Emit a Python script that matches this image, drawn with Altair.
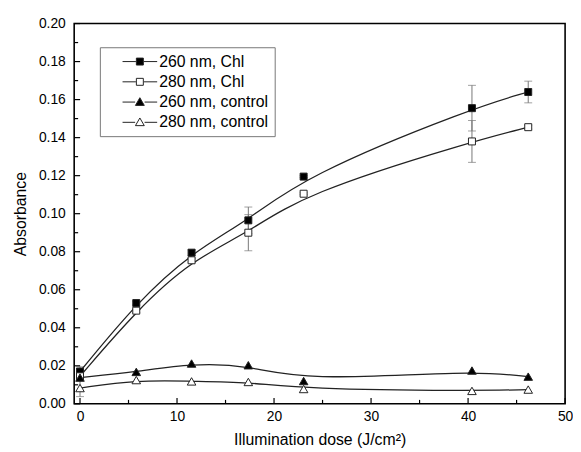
import altair as alt
import pandas as pd

# ---------------- data ----------------
series_names = ["260 nm, Chl", "280 nm, Chl", "260 nm, control", "280 nm, control"]
dose = [0, 5.8, 11.5, 17.35, 23.05, 40.4, 46.2]

abs_260_chl = [0.0170, 0.0530, 0.0795, 0.0965, 0.1195, 0.1555, 0.1640]
abs_280_chl = [0.0145, 0.0490, 0.0755, 0.0900, 0.1105, 0.1380, 0.1455]
abs_260_ctl = [0.0138, 0.0168, 0.0212, 0.0203, 0.0120, 0.0175, 0.0143]
abs_280_ctl = [0.0083, 0.0125, 0.0118, 0.0115, 0.0078, 0.0068, 0.0075]

err_260_chl = [0.0025, 0.0010, 0.0015, 0.0070, 0.0005, 0.0120, 0.0057]
err_280_chl = [0.0020, 0.0010, 0.0010, 0.0095, 0.0005, 0.0110, 0.0010]
err_260_ctl = [0.0010, 0.0, 0.0, 0.0, 0.0, 0.0, 0.0]
err_280_ctl = [0.0045, 0.0, 0.0, 0.0, 0.0, 0.0, 0.0]

x_major = [0, 10, 20, 30, 40, 50]
x_minor = [5, 15, 25, 35, 45]
y_major = [0.00, 0.02, 0.04, 0.06, 0.08, 0.10, 0.12, 0.14, 0.16, 0.18, 0.20]
y_minor = [0.01, 0.03, 0.05, 0.07, 0.09, 0.11, 0.13, 0.15, 0.17, 0.19]

values = [abs_260_chl, abs_280_chl, abs_260_ctl, abs_280_ctl]
errors = [err_260_chl, err_280_chl, err_260_ctl, err_280_ctl]

rows = []
for s, vals, errs in zip(series_names, values, errors):
    for d, v, e in zip(dose, vals, errs):
        rows.append({"series": s, "dose": d, "value": v, "err": e,
                     "lo": v - e, "hi": v + e})
df = pd.DataFrame(rows)

# ---------------- layout ----------------
W, H = 497, 385
FONT = "Liberation Sans"

xscale = alt.Scale(domain=[-0.6, 50], nice=False, zero=False)
yscale = alt.Scale(domain=[0, 0.2], nice=False, zero=False)

x_axis = alt.Axis(values=x_major, ticks=False, domain=False, grid=False,
                  labelPadding=6, title="Illumination dose (J/cm²)",
                  titlePadding=8, labelFlush=False)
y_axis = alt.Axis(values=y_major, format=".2f", ticks=False, domain=False,
                  grid=False, labelPadding=9, title="Absorbance",
                  titlePadding=10)


def X(field):
    return alt.X(field, scale=xscale, axis=x_axis)


def Y(field):
    return alt.Y(field, scale=yscale, axis=y_axis)


base = alt.Chart(df)

# error bars
err_df = base.transform_filter(alt.datum.err > 0)
err_rule = err_df.mark_rule(color="#777777", strokeWidth=1).encode(
    x=X("dose:Q"), y=Y("lo:Q"), y2="hi:Q",
)
cap_lo = err_df.mark_tick(color="#777777", orient="horizontal", size=8,
                          thickness=1).encode(x=X("dose:Q"), y=Y("lo:Q"))
cap_hi = err_df.mark_tick(color="#777777", orient="horizontal", size=8,
                          thickness=1).encode(x=X("dose:Q"), y=Y("hi:Q"))

# smooth curves
lines = base.mark_line(interpolate="basis", color="#222222",
                       strokeWidth=1.3).encode(
    x=X("dose:Q"), y=Y("value:Q"), detail="series:N",
)

# markers
marker_shapes = ["square", "square", "triangle-up", "triangle-up"]
marker_fills = ["black", "white", "black", "white"]
marker_sizes = [50, 50, 75, 75]
point_layers = []
for s, shp, fl, sz in zip(series_names, marker_shapes, marker_fills, marker_sizes):
    point_layers.append(
        base.transform_filter(alt.datum.series == s).mark_point(
            shape=shp, filled=True, fill=fl, stroke="#222222",
            strokeWidth=1, size=sz, opacity=1,
        ).encode(x=X("dose:Q"), y=Y("value:Q"))
    )

# legend (symbols with line stubs); unit = 8 px for symbolSize 256,
# drawn shifted one unit to the right
legend_paths = [
    "M-1.19,0H0.5M1.5,0H3.19M0.56,-0.44H1.44V0.44H0.56Z",
    "M-1.19,0H0.5M1.5,0H3.19M0.56,-0.44H1.44V0.44H0.56Z",
    "M-1.19,0H0.4M1.6,0H3.19M1,-0.55L1.56,0.42L0.44,0.42Z",
    "M-1.19,0H0.4M1.6,0H3.19M1,-0.55L1.56,0.42L0.44,0.42Z",
]
legend_strokes = ["#222222", "#222222", "#222222", "#222222"]
leg = alt.Legend(title=None, orient="none", legendX=26, legendY=24,
                 symbolSize=256, symbolStrokeWidth=1, symbolOpacity=1,
                 symbolStrokeColor="#222222", symbolOffset=18,
                 labelFont=FONT, labelFontSize=16, labelColor="black",
                 labelLimit=300, labelExpr="datum.label + '\u2002'",
                 strokeColor="#777777", fillColor="white",
                 padding=6, rowPadding=3.5, labelOffset=19)
legend_layer = base.transform_filter("false").mark_point(
    filled=True, strokeWidth=1, opacity=1
).encode(
    x=X("dose:Q"), y=Y("value:Q"),
    shape=alt.Shape("series:N", scale=alt.Scale(domain=series_names,
                                                range=legend_paths),
                    legend=leg),
    fill=alt.Fill("series:N", scale=alt.Scale(domain=series_names,
                                              range=marker_fills),
                  legend=leg),
    stroke=alt.Stroke("series:N", scale=alt.Scale(domain=series_names,
                                                  range=legend_strokes),
                      legend=leg),
)

# inward ticks
xt_major = alt.Chart(pd.DataFrame({"t": x_major})).mark_rule(
    color="black", strokeWidth=1.2).encode(
    x=X("t:Q"), y=alt.value(H), y2=alt.value(H - 6))
xt_minor = alt.Chart(pd.DataFrame({"t": x_minor})).mark_rule(
    color="black", strokeWidth=1.2).encode(
    x=X("t:Q"), y=alt.value(H), y2=alt.value(H - 4))
yt_major = alt.Chart(pd.DataFrame({"t": y_major})).mark_rule(
    color="black", strokeWidth=1.2).encode(
    y=Y("t:Q"), x=alt.value(0), x2=alt.value(6))
yt_minor = alt.Chart(pd.DataFrame({"t": y_minor})).mark_rule(
    color="black", strokeWidth=1.2).encode(
    y=Y("t:Q"), x=alt.value(0), x2=alt.value(4))

chart = alt.layer(
    err_rule, cap_lo, cap_hi, lines, *point_layers, legend_layer,
    xt_major, xt_minor, yt_major, yt_minor,
).properties(
    width=W, height=H,
    autosize=alt.AutoSizeParams(type="none"),
    padding={"left": 67, "top": 13, "right": 8, "bottom": 44},
    background="white",
).configure_view(
    stroke="black", strokeWidth=1.6
).configure_axis(
    labelFont=FONT, labelFontSize=14, labelColor="black",
    titleFont=FONT, titleFontSize=16, titleColor="black",
    titleFontWeight="normal",
)

chart.save("out.html", embed_options={"renderer": "svg", "actions": False})
